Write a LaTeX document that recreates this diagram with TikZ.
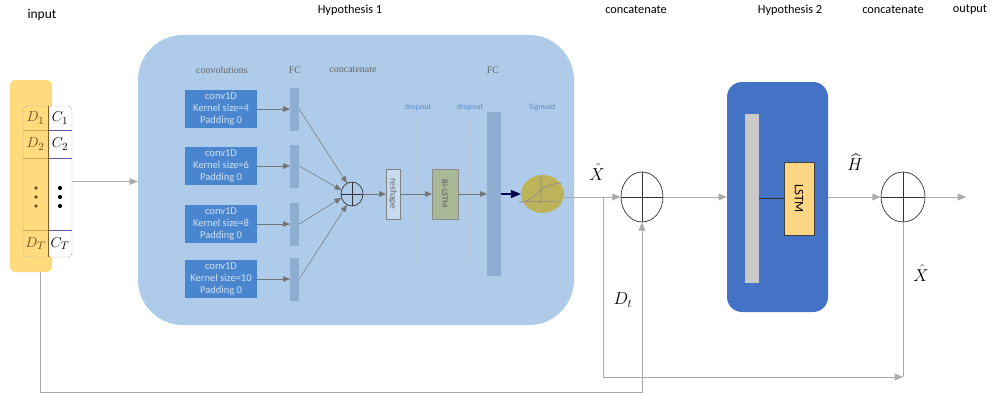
\documentclass[tikz,border=0pt]{standalone}
\usepackage{amsmath}
\usepackage{fontspec}
\setmainfont{Carlito}
\newfontfamily\labfont{Liberation Serif}
\usepackage{tikz}
\usetikzlibrary{arrows,shapes}

\definecolor{hypone}{HTML}{AECBEA}
\definecolor{hyptwo}{HTML}{4472C4}
\definecolor{convblue}{HTML}{4A86D0}
\definecolor{fcbar}{HTML}{8EAED1}
\definecolor{yelcol}{HTML}{FFDB7E}
\definecolor{lstmcol}{HTML}{FFD683}
\definecolor{sigcol}{HTML}{BDB35A}
\definecolor{bilstm}{HTML}{A9B996}
\definecolor{conn}{HTML}{ABABAB}
\definecolor{labblue}{HTML}{5A8BCB}

\tikzset{
  toplab/.style={font=\fontsize{12.3}{15}\selectfont},
  inlab/.style={font=\labfont\fontsize{10}{12}\selectfont, text=black!60},
  droplab/.style={font=\fontsize{8}{10}\selectfont, text=labblue},
  convbox/.style={fill=convblue, text=white!75!convblue, minimum width=72pt,
    minimum height=38pt, inner sep=0pt, align=center,
    font=\fontsize{10.5}{12}\selectfont},
  fcbox/.style={fill=fcbar, minimum width=9pt, inner sep=0pt},
  link/.style={draw=conn, line width=0.9pt, -triangle 45},
  fclink/.style={draw=black!55, line width=0.5pt, -triangle 45},
  concat/.style={ellipse, draw=black!80, line width=0.7pt, inner sep=0pt},
  mathlab/.style={font=\fontsize{17}{20}\selectfont},
  dlab/.style={font=\fontsize{15}{18}\selectfont},
}

\begin{document}
\begin{tikzpicture}[x=1pt,y=-1pt]
\useasboundingbox (0,0) rectangle (998,396);

% titles
\node[toplab, font=\fontsize{13.5}{16}\selectfont] (tinput) at (42,15) {input};
\node[toplab] (thyp1) at (350,10) {Hypothesis 1};
\node[toplab] (tcat1) at (636,10) {concatenate};
\node[toplab] (thyp2) at (790,10) {Hypothesis 2};
\node[toplab] (tcat2) at (893,10) {concatenate};
\node[toplab] (tout) at (970,10) {output};

% input table
\node[fill=yelcol, rounded corners=5pt, minimum width=42pt, minimum height=192pt, inner sep=0pt] (dcol) at (31,176) {};
\fill[white, rounded corners=4pt] (48,106) rectangle (72,257);
\node[draw=black!30, rounded corners=4pt, minimum width=49pt, minimum height=151pt, inner sep=0pt] (tab) at (47.5,181.5) {};
\draw[brown!60!yelcol] (23,130) -- (48,130) (23,158) -- (48,158) (23,230) -- (48,230);
\draw[blue!30!gray] (48,130) -- (72,130) (48,158) -- (72,158) (48,230) -- (72,230);
\draw[brown!70!black, line width=0.7pt] (48,106) -- (48,257);
\node[dlab, text=brown!55!black] (d1) at (35.5,118) {$D_1$};
\node[dlab] (c1) at (60,118) {$C_1$};
\node[dlab, text=brown!55!black] (d2) at (35.5,144) {$D_2$};
\node[dlab] (c2lab) at (60,144) {$C_2$};
\node[dlab, text=brown!55!black] (dT) at (35.5,243.5) {$D_T$};
\node[dlab] (cT) at (60,243.5) {$C_T$};
\foreach \y in {188,197,206}{
  \fill[brown!60!black] (36,\y) circle (1.8);
  \fill[black] (60,\y) circle (2.1);
}

% Hypothesis 1
\node[fill=hypone, rounded corners=45pt, minimum width=436pt, minimum height=290pt] (hyp1) at (356,180) {};
\node[inlab] (lconv) at (222,70) {convolutions};
\node[inlab] (lfc1) at (295,70) {FC};
\node[inlab] (lcat) at (353,70) {concatenate};
\node[inlab] (lfc2) at (493,70) {FC};
\node[droplab] (ldrop1) at (418,107) {dropout};
\node[droplab] (ldrop2) at (470,107) {dropout};
\node[droplab] (lsig) at (542,107) {Sigmoid};

\node[concat, minimum width=22pt, minimum height=24pt] (cc1) at (352,194) {};
\draw[black!80, line width=0.7pt] (cc1.north) -- (cc1.south) (cc1.west) -- (cc1.east);

\foreach \k/\y/\a in {4/109/115,6/166/160,8/224/200,10/279/245}{
  \node[convbox] (conv\k) at (221,\y) {conv1D\\Kernel size=\k\\Padding 0};
  \node[fcbox, minimum height=43pt] (fc\k) at (294.5,\y) {};
  \draw[fclink] (conv\k.east) -- (fc\k.west);
  \draw[fclink] (fc\k.east) -- (cc1.\a);
}

\draw[black!25, dotted, line width=0.5pt] (418,118) -- (418,267) (468,118) -- (468,267);

\node[draw=black!50, fill=hypone!70!white, minimum width=14pt, minimum height=50pt, inner sep=0pt] (resh) at (393,194) {};
\node[rotate=-90, font=\fontsize{9.5}{11}\selectfont, text=black!60] at (resh) {reshape};
\node[draw=black!45, fill=bilstm, minimum width=26pt, minimum height=50pt, inner sep=0pt] (bil) at (445,194) {};
\node[rotate=-90, font=\fontsize{8.5}{10}\selectfont, text=black!65] at (bil) {Bi-LSTM};
\node[fcbox, minimum width=14pt, minimum height=164pt] (fcbig) at (494,194) {};
\node[ellipse, fill=sigcol, minimum width=43pt, minimum height=38pt, inner sep=0pt] (sig) at (542.5,194) {};
\draw[black!45, line width=0.6pt] (519,202) -- (561,201) (541,177) -- (541,204);
\draw[black!45, line width=0.6pt] (520,202) .. controls (537,202) and (536,184) .. (562,183);

\draw[fclink] (cc1.east) -- (resh.west);
\draw[fclink] (resh.east) -- (bil.west);
\draw[fclink] (bil.east) -- (fcbig.west);
\draw[draw=black!70!blue, line width=1.3pt, -triangle 45] (fcbig.east) -- (sig.west);

% concatenate with D_t
\node[concat, minimum width=42pt, minimum height=50pt] (c2) at (642,197) {};
\draw[black!80, line width=0.7pt] (c2.north) -- (c2.south) (c2.west) -- (c2.east);
\node[mathlab] (xhat1) at (597,172) {$\hat{X}$};
\node[mathlab] (dt) at (623,300) {$D_t$};

% Hypothesis 2
\node[fill=hyptwo, rounded corners=15pt, minimum width=101pt, minimum height=230pt] (hyp2) at (777.5,197) {};
\node[fill=black!21, minimum width=14pt, minimum height=169pt, inner sep=0pt] (gbar) at (752,198.5) {};
\node[draw=black!75, fill=lstmcol, minimum width=30pt, minimum height=73pt, inner sep=0pt] (lstm) at (799,198.5) {};
\node[rotate=-90, font=\fontsize{13}{15}\selectfont] at (lstm) {LSTM};
\draw[black!80, line width=0.8pt] (gbar.east) -- (lstm.west);

% concatenate with X hat
\node[concat, minimum width=44pt, minimum height=50pt] (c3) at (903,197) {};
\draw[black!80, line width=0.7pt] (c3.north) -- (c3.south) (c3.west) -- (c3.east);
\node[mathlab] (hhat) at (855,162) {$\widehat{H}$};
\node[mathlab] (xhat2) at (921,273) {$\hat{X}$};
\coordinate (outend) at (966,197);
\coordinate (split) at (603,197);
\coordinate (xback) at (903,377);

% connectors
\draw[link] (tab.east) -- (tab.east -| hyp1.west);
\draw[link] (sig.east |- c2.west) -- (c2.west);
\draw[link] (c2.east) -- (hyp2.west);
\draw[link] (hyp2.east) -- (c3.west);
\draw[link] (c3.east) -- (outend);
\draw[draw=conn, line width=0.9pt] (c3.south) -- (xback);
\draw[link] (split) |- (xback);
\draw[link] ([xshift=9pt]dcol.south) |- ([yshift=-15pt]xback -| c2.south) -- (c2.south);
\end{tikzpicture}
\end{document}
